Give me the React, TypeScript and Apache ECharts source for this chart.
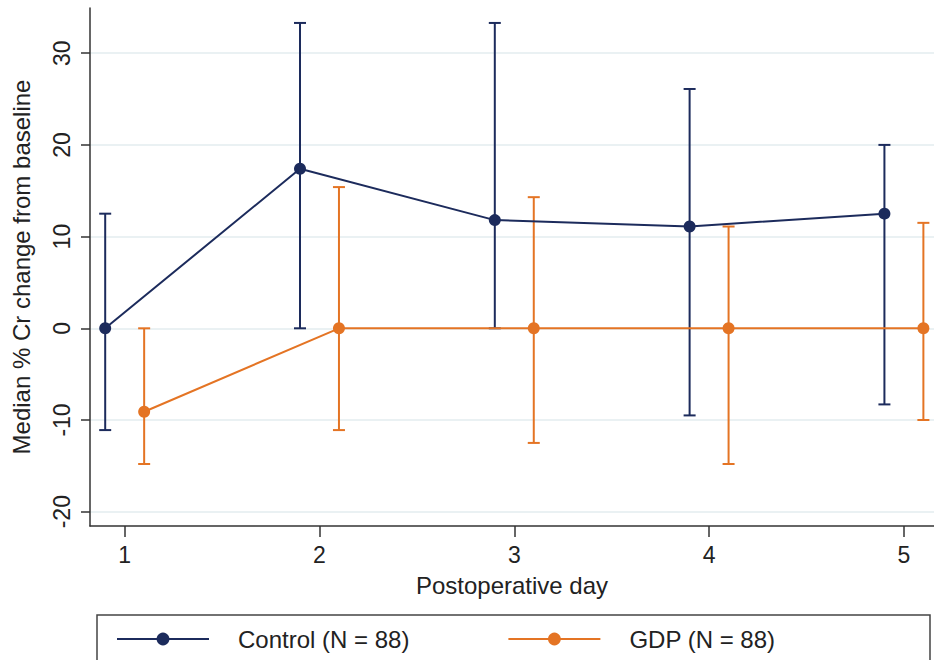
import React, { useEffect, useRef } from "react";
import * as echarts from "echarts";

const days = [1, 2, 3, 4, 5];
const controlMedian = [0, 17.4, 11.8, 11.1, 12.5];
const controlLow = [-11.1, 0, 0, -9.5, -8.3];
const controlHigh = [12.5, 33.3, 33.3, 26.1, 20.0];
const gdpMedian = [-9.1, 0, 0, 0, 0];
const gdpLow = [-14.8, -11.1, -12.5, -14.8, -10.0];
const gdpHigh = [0, 15.4, 14.3, 11.1, 11.5];
const yTicks = [-20, -10, 0, 10, 20, 30];
const controlName = "Control (N = 88)";
const gdpName = "GDP (N = 88)";

const NAVY = "#1c2b5c";
const ORANGE = "#e47424";
const FONT = "'Liberation Sans', Arial, Helvetica, sans-serif";
const OFFSET = 0.1;

function errorBarSeries(name: string, color: string, shift: number, low: number[], high: number[]) {
  return {
    type: "custom",
    name: name + " range",
    silent: true,
    z: 2,
    data: days.map((d, i) => [d + shift, low[i], high[i]]),
    renderItem: (params: any, api: any) => {
      const x = api.value(0);
      const lo = api.coord([x, api.value(1)]);
      const hi = api.coord([x, api.value(2)]);
      const cap = 6;
      const style = { stroke: color, lineWidth: 2 };
      return {
        type: "group",
        children: [
          { type: "line", shape: { x1: lo[0], y1: lo[1], x2: hi[0], y2: hi[1] }, style },
          { type: "line", shape: { x1: lo[0] - cap, y1: lo[1], x2: lo[0] + cap, y2: lo[1] }, style },
          { type: "line", shape: { x1: hi[0] - cap, y1: hi[1], x2: hi[0] + cap, y2: hi[1] }, style },
        ],
      };
    },
  };
}

export default function App() {
  const ref = useRef<HTMLDivElement>(null);
  useEffect(() => {
    if (!ref.current) return;
    const chart = echarts.init(ref.current, undefined, { renderer: "svg" });
    chart.setOption({
      animation: false,
      backgroundColor: "#ffffff",
      textStyle: { fontFamily: FONT },
      grid: { left: 90, right: 0, top: 8, bottom: 134, containLabel: false, outerBoundsMode: "none" },
      xAxis: {
        type: "value",
        min: 0.822,
        max: 5.1545,
        name: "Postoperative day",
        nameLocation: "middle",
        nameGap: 47,
        nameTextStyle: { fontSize: 24, color: "#222", fontFamily: FONT },
        axisLine: { show: true, onZero: false, lineStyle: { color: "#333", width: 1.5 } },
        axisTick: { show: true, customValues: days, length: 11, lineStyle: { color: "#333", width: 1.5 } },
        axisLabel: { customValues: days, fontSize: 23, color: "#222", margin: 17, fontFamily: FONT },
        splitLine: { show: false },
      },
      yAxis: {
        type: "value",
        min: -21.56,
        max: 34.93,
        name: "Median % Cr change from baseline",
        nameLocation: "middle",
        nameGap: 57,
        nameTextStyle: { fontSize: 24, color: "#222", fontFamily: FONT },
        axisLine: { show: true, onZero: false, lineStyle: { color: "#333", width: 1.5 } },
        axisTick: { show: true, customValues: yTicks, length: 9, lineStyle: { color: "#333", width: 1.5 } },
        axisLabel: { customValues: yTicks, rotate: 90, fontSize: 23, color: "#222", margin: 17, fontFamily: FONT },
        splitLine: { show: true, lineStyle: { color: "#e3ecef", width: 1.5 } },
      },
      legend: {
        left: 116,
        top: 627,
        padding: 0,
        itemWidth: 92,
        itemHeight: 16,
        itemGap: 98,
        selectedMode: false,
        textStyle: { fontSize: 24, color: "#222", fontFamily: FONT, padding: [0, 0, 0, 24] },
        data: [controlName, gdpName],
      },
      graphic: [
        {
          type: "rect",
          shape: { x: 97, y: 615, width: 833, height: 60 },
          style: { fill: "none", stroke: "#444", lineWidth: 1.5 },
          silent: true,
        },
      ],
      series: [
        errorBarSeries(controlName, NAVY, -OFFSET, controlLow, controlHigh),
        errorBarSeries(gdpName, ORANGE, OFFSET, gdpLow, gdpHigh),
        {
          type: "line",
          name: controlName,
          z: 3,
          data: days.map((d, i) => [d - OFFSET, controlMedian[i]]),
          symbol: "circle",
          symbolSize: 12,
          lineStyle: { color: NAVY, width: 2 },
          itemStyle: { color: NAVY },
        },
        {
          type: "line",
          name: gdpName,
          z: 3,
          data: days.map((d, i) => [d + OFFSET, gdpMedian[i]]),
          symbol: "circle",
          symbolSize: 12,
          lineStyle: { color: ORANGE, width: 2 },
          itemStyle: { color: ORANGE },
        },
      ],
    });
    return () => chart.dispose();
  }, []);
  return (
    <div
      ref={ref}
      style={{ position: "fixed", left: 0, top: 0, width: 934, height: 660, background: "#fff" }}
    />
  );
}
